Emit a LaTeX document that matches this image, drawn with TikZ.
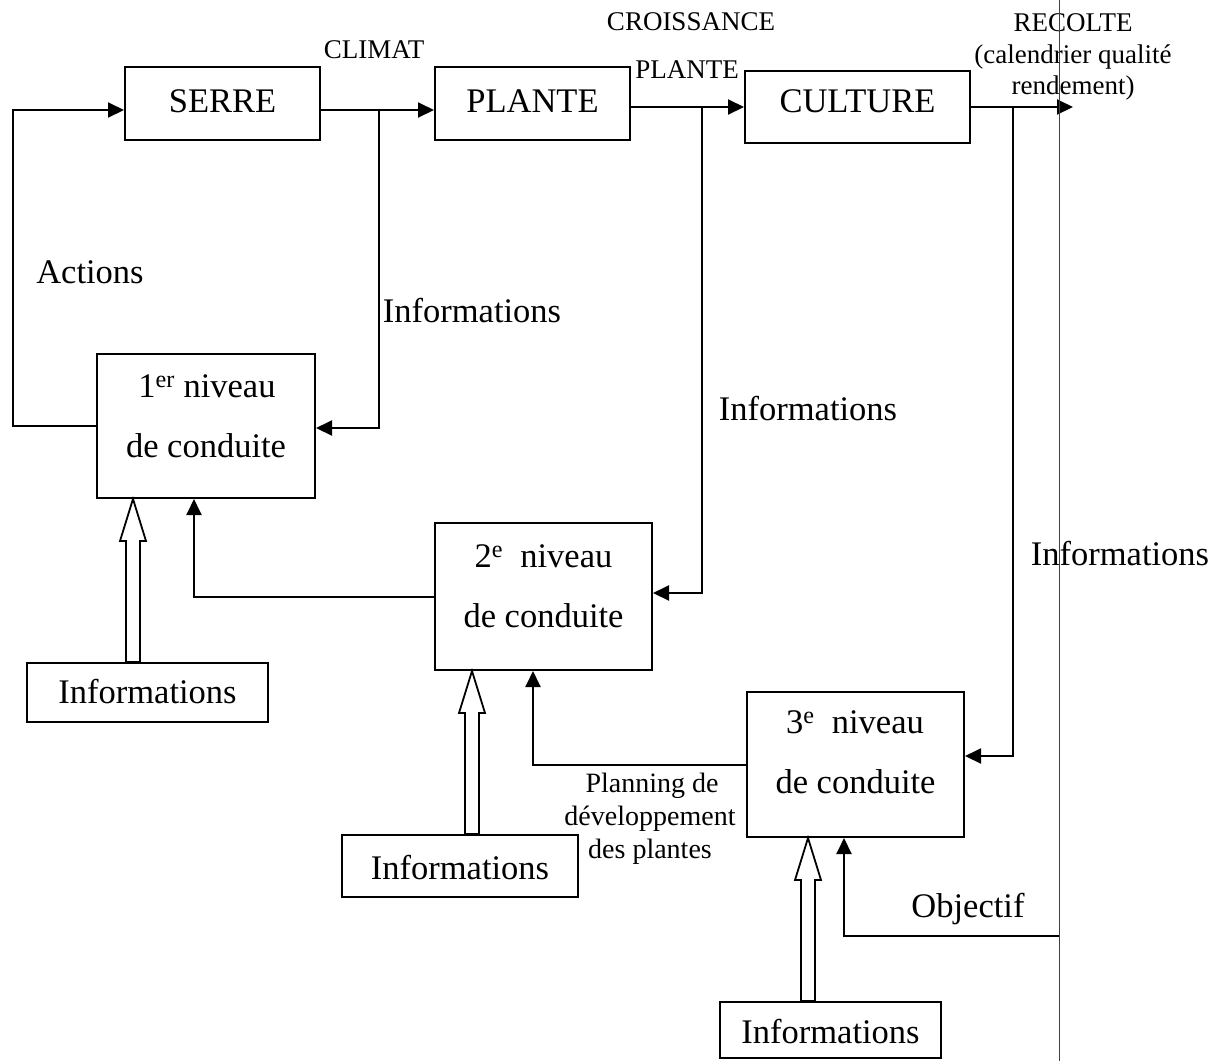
\documentclass[tikz,border=0pt]{standalone}
\usepackage{fontspec}
\setmainfont{Liberation Serif}
\usetikzlibrary{arrows.meta,calc}
\begin{document}
\begin{tikzpicture}[x=1pt,y=-1pt,
  boxn/.style={draw, line width=2pt, inner sep=0pt},
  big/.style={font=\fontsize{34.5}{40}\selectfont, inner sep=0pt, anchor=base},
  small/.style={font=\fontsize{27}{33}\selectfont, inner sep=0pt, anchor=base},
  mid/.style={font=\fontsize{28}{33}\selectfont, inner sep=0pt, anchor=base},
  arr/.style={line width=2pt, -{Triangle[length=16pt,width=15pt]}},
  hol/.style={line width=1.8pt, fill=white, line join=miter}]
\useasboundingbox (0,0) rectangle (1222,1061);
\newcommand\hollowarrow[3]{\draw[hol] let \p1=(#1 |- #2.north), \p2=(#1 |- #3.south) in
  (\x1-7pt,\y1) -- (\x1-7pt,\y2-42pt) -- (\x1-13pt,\y2-42pt) -- (\x1,\y2) --
  (\x1+13pt,\y2-42pt) -- (\x1+7pt,\y2-42pt) -- (\x1+7pt,\y1) -- cycle;}
% boxes
\node[boxn, minimum width=195pt, minimum height=73pt] (serre) at (222.5,103.5) {};
\node[boxn, minimum width=195pt, minimum height=73pt] (plante) at (532.5,103.5) {};
\node[boxn, minimum width=225pt, minimum height=72pt] (culture) at (857.5,107) {};
\node[boxn, minimum width=218pt, minimum height=144pt] (n1) at (206,426) {};
\node[boxn, minimum width=217pt, minimum height=147pt] (n2) at (543.5,596.5) {};
\node[boxn, minimum width=217pt, minimum height=145pt] (n3) at (855.5,764.5) {};
\node[boxn, minimum width=241pt, minimum height=59pt] (i1) at (147.5,692.5) {};
\node[boxn, minimum width=236pt, minimum height=62pt] (i2) at (460,866) {};
\node[boxn, minimum width=221pt, minimum height=56pt] (i3) at (830.5,1030) {};
% box texts
\node[big] (tserre) at (222.5,112) {SERRE};
\node[big] (tplante) at (532.5,112) {PLANTE};
\node[big] (tculture) at (857.5,112) {CULTURE};
\node[big] (tn1a) at (207,397) {1\textsuperscript{er} niveau};
\node[big] (tn1b) at (206,457) {de conduite};
\node[big] (tn2a) at (543.5,567) {2\textsuperscript{e}\ \ niveau};
\node[big] (tn2b) at (543.5,627) {de conduite};
\node[big] (tn3a) at (855,733) {3\textsuperscript{e}\ \ niveau};
\node[big] (tn3b) at (855.5,793) {de conduite};
\node[big] (ti1) at (147.5,703) {Informations};
\node[big] (ti2) at (460,879) {Informations};
\node[big] (ti3) at (830.5,1043) {Informations};
% labels
\node[small] (lclimat) at (374,58) {CLIMAT};
\node[small] (lcrois) at (691,30) {CROISSANCE};
\node[small] (lplante) at (687,78) {PLANTE};
\node[small] (lrec1) at (1073,31) {RECOLTE};
\node[small] (lrec2) at (1073,63) {(calendrier qualité};
\node[small] (lrec3) at (1073,94) {rendement)};
\node[big] (lact) at (90,283) {Actions};
\node[big] (linf1) at (472,322) {Informations};
\node[big] (linf2) at (808,420) {Informations};
\node[big] (linf3) at (1120,565) {Informations};
\node[mid] (lpl1) at (652,792) {Planning de};
\node[mid] (lpl2) at (650,825) {développement};
\node[mid] (lpl3) at (650,858) {des plantes};
\node[big] (lobj) at (968,917) {Objectif};
% coordinates
\coordinate (j1) at (379,110);
\coordinate (cL) at (13,110);
\coordinate (j2) at (702,107);
\coordinate (j3) at (1013,107);
\coordinate (rec) at (1073,107);
\coordinate (a21) at (194,597);
\coordinate (a32) at (533,765);
\coordinate (obj) at (1059,936);
\coordinate (aobj) at (844,936);
\coordinate (h1) at (133,0);
\coordinate (h2) at (472,0);
\coordinate (h3) at (808,0);
% connectors
\draw[arr] (serre.east |- j1) -- (plante.west |- j1);
\draw[arr] (j1) |- ([yshift=-2pt]n1.east);
\draw[arr] (n1.west) -| (cL) -- (serre.west |- cL);
\draw[arr] (plante.east |- j2) -- (culture.west |- j2);
\draw[arr] (j2) |- ([yshift=3.5pt]n2.east);
\draw[arr] (culture.east |- j3) -- (rec);
\draw[arr] (j3) |- ([yshift=8.5pt]n3.east);
\draw[arr] (n2.west |- a21) -| (a21 |- n1.south);
\draw[arr] (n3.west |- a32) -| (a32 |- n2.south);
\draw[arr] (obj) -| (aobj |- n3.south);
\hollowarrow{h1}{i1}{n1}
\hollowarrow{h2}{i2}{n2}
\hollowarrow{h3}{i3}{n3}
% thin edge line
\draw[black!75, line width=0.7pt] (1059,0) -- (1059,1061);
\end{tikzpicture}
\end{document}
